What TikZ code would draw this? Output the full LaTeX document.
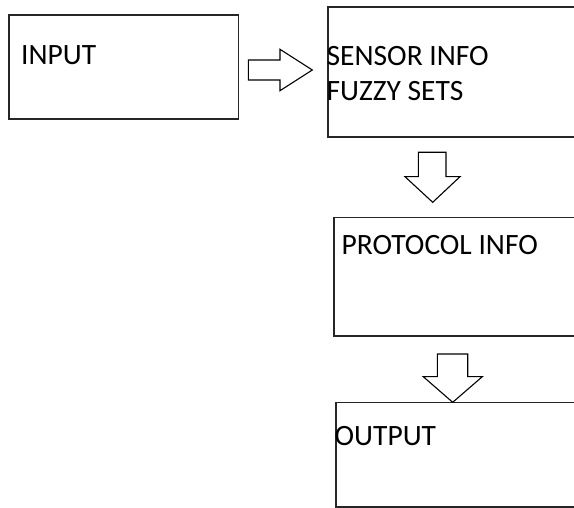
\documentclass[tikz,border=0pt]{standalone}
\usepackage{fontspec}
\setmainfont{Carlito}
\begin{document}
\begin{tikzpicture}[x=1pt,y=-1pt,
  box/.style={draw=black!85, line width=1.6pt, rectangle, inner sep=0pt, anchor=north west},
  lbl/.style={anchor=base west, inner sep=0pt, font=\fontsize{29.5}{35}\selectfont, text=black},
  blockarrow/.style={draw=black, line width=1.1pt, fill=white, line join=miter}]
\useasboundingbox (0,0) rectangle (574,508);
\clip (0,0) rectangle (574,508);
\fill[white] (0,0) rectangle (574,508);
% boxes
\node[box, minimum width=229.4pt, minimum height=104.3pt] (input) at (8.3,14) {};
\node[box, minimum width=280pt, minimum height=130pt] (sensor) at (327.3,6) {};
\node[box, minimum width=280pt, minimum height=118.3pt] (protocol) at (333.3,216.7) {};
\node[box, minimum width=280pt, minimum height=104.3pt] (output) at (335,401.7) {};
% texts
\node[lbl] (tinput) at (21,65) {INPUT};
\node[lbl] (tsensor) at (326.5,65.7) {SENSOR INFO};
\node[lbl] (tfuzzy) at (326.5,100.7) {FUZZY SETS};
\node[lbl] (tprotocol) at (341.5,255) {PROTOCOL INFO};
\node[lbl] (toutput) at (334.5,445) {OUTPUT};
% block arrows
\draw[blockarrow] (248.3,60) -- (280,60) -- (280,49.3) -- (312.3,70) -- (280,90.7) -- (280,80) -- (248.3,80) -- cycle;
\draw[blockarrow] (418.3,152.3) -- (446,152.3) -- (446,176.7) -- (460,176.7) -- (432.7,202.3) -- (405,176.7) -- (418.3,176.7) -- cycle;
\draw[blockarrow] (437.3,354) -- (467.7,354) -- (467.7,376.7) -- (482.3,376.7) -- (452.7,402.3) -- (423.3,376.7) -- (437.3,376.7) -- cycle;
\end{tikzpicture}
\end{document}
